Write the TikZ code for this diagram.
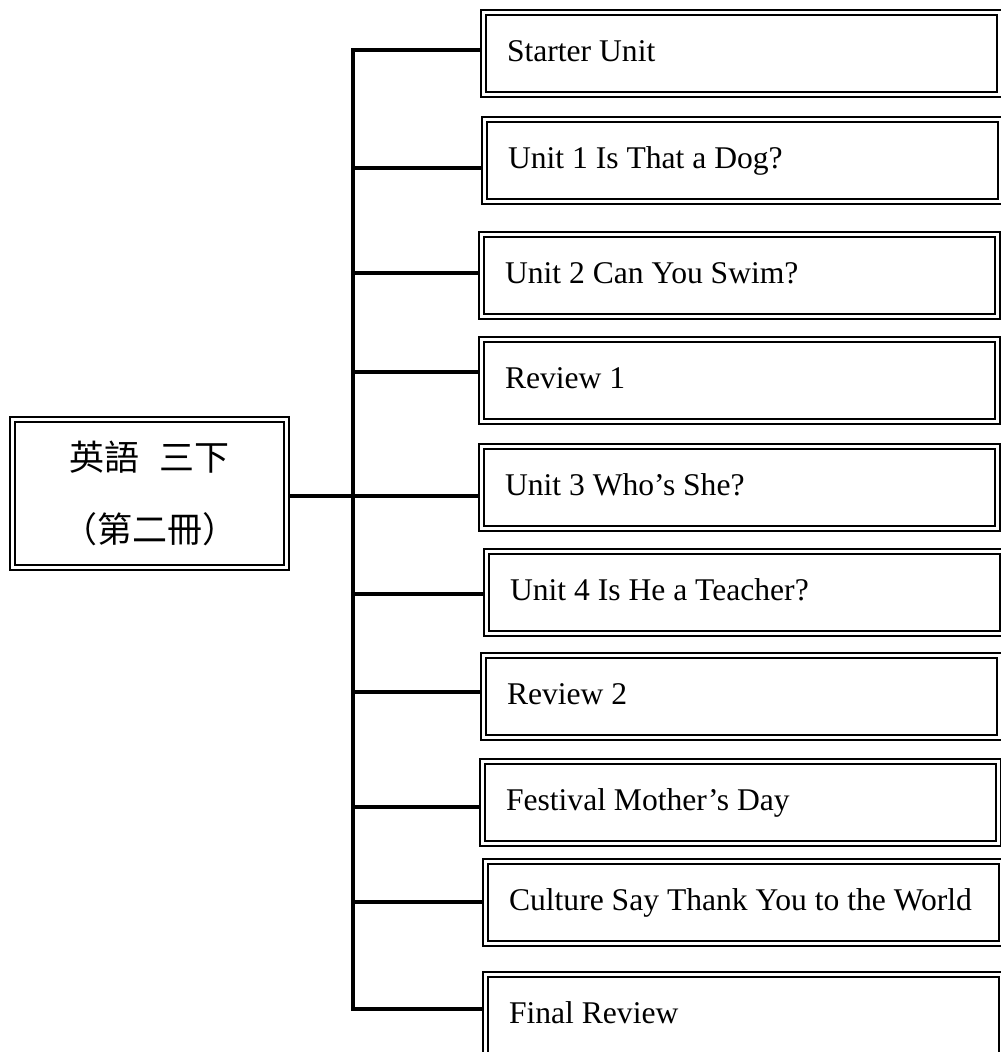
\documentclass[tikz,border=0pt]{standalone}
\usepackage{fontspec}
\setmainfont{Liberation Serif}
\newfontfamily\cjkfont{Noto Sans CJK TC}
\newcommand\ulabel[1]{\makebox[469pt][l]{#1}}
\begin{document}
\begin{tikzpicture}[x=1pt,y=-1pt,
  ubox/.style={draw, line width=1.6pt, outer sep=0pt, anchor=north west,
    minimum height=87pt, inner xsep=26pt,
    text height=21pt, text depth=6pt, font=\fontsize{31.6}{36}\selectfont},
  rootbox/.style={draw, line width=1.6pt, outer sep=0pt, minimum width=279pt,
    minimum height=153pt, inner sep=0pt, align=center,
    font=\cjkfont\fontsize{35}{72}\selectfont},
  innerline/.style={draw, line width=2.6pt},
  conn/.style={line width=3.2pt}]
\useasboundingbox (0,0) rectangle (1001,1052);
% root
\node[rootbox] (root) at (149.5,493.5) {英語\hspace{0.6em}三下\\（第二冊）};
% unit boxes
\node[ubox] (b1)  at (481,10)  {\ulabel{Starter Unit}};
\node[ubox] (b2)  at (482,117) {\ulabel{Unit 1 Is That a Dog?}};
\node[ubox] (b3)  at (479,232) {\ulabel{Unit 2 Can You Swim?}};
\node[ubox] (b4)  at (479,337) {\ulabel{Review 1}};
\node[ubox] (b5)  at (479,444) {\ulabel{Unit 3 Who’s She?}};
\node[ubox] (b6)  at (484,549) {\ulabel{Unit 4 Is He a Teacher?}};
\node[ubox] (b7)  at (481,653) {\ulabel{Review 2}};
\node[ubox] (b8)  at (480,759) {\ulabel{Festival Mother’s Day}};
\node[ubox] (b9)  at (483,859) {\ulabel{Culture Say Thank You to the World}};
\node[ubox] (b10) at (483,972) {\ulabel{Final Review}};
% inner lines of the double borders
\foreach \n in {root,b1,b2,b3,b4,b5,b6,b7,b8,b9,b10}
  \draw[innerline] ([shift={(5,5)}]\n.north west) rectangle ([shift={(-5,-5)}]\n.south east);
% trunk points
\coordinate (t1) at (353,50);
\coordinate (t2) at (353,168);
\coordinate (t3) at (353,273);
\coordinate (t4) at (353,372);
\coordinate (t5) at (353,496);
\coordinate (t6) at (353,594);
\coordinate (t7) at (353,692);
\coordinate (t8) at (353,807);
\coordinate (t9) at (353,902);
\coordinate (t10) at (353,1009);
% connectors
\draw[conn] (t1 -| b1.west) -- (t1) -- (t10) -- (t10 -| b10.west);
\foreach \i in {2,...,9}
  \draw[conn] (t\i) -- (t\i -| b\i.west);
\draw[conn] (root.east |- t5) -- (t5);
\end{tikzpicture}
\end{document}
